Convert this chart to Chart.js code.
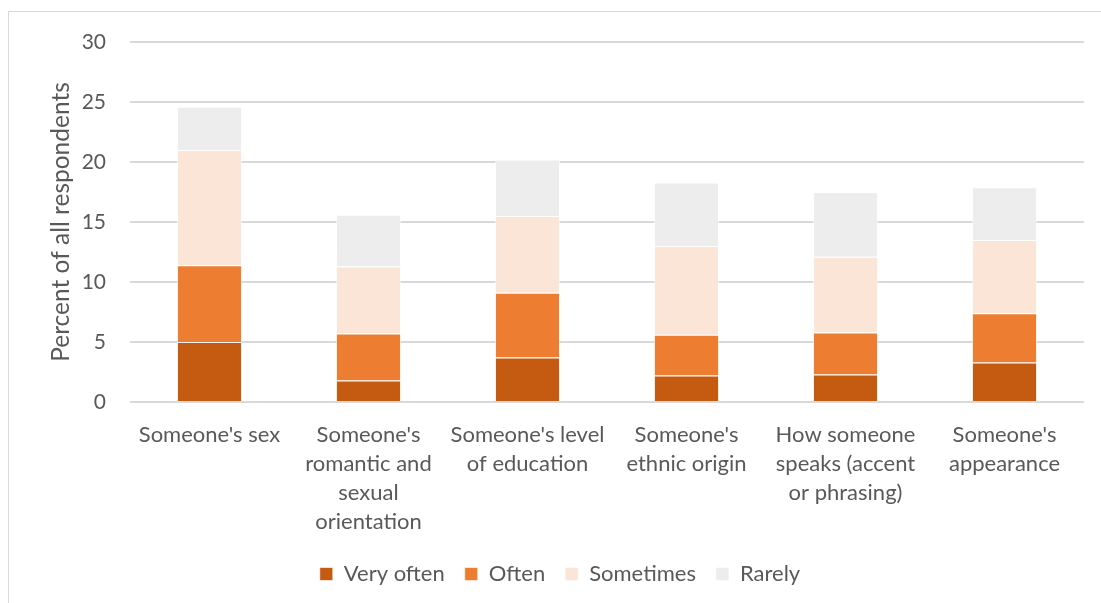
<!DOCTYPE html>
<html>
<head>
<meta charset="utf-8">
<script src="https://cdn.jsdelivr.net/npm/chart.js@4.4.1/dist/chart.umd.min.js"></script>
<style>
  html, body { margin: 0; padding: 0; background: #fff; }
  #wrap { position: relative; width: 1101px; height: 603px; overflow: hidden; }
  #frame { position: absolute; left: 8px; top: 11px; width: 1200px; height: 700px; border: 1px solid #d9d9d9; box-sizing: border-box; }
  #chart { position: absolute; left: 0; top: 0; }
</style>
</head>
<body>
<div id="wrap">
  <div id="frame"></div>
  <canvas id="chart" width="1101" height="603"></canvas>
</div>
<script>
// Categories (wrapped the way the axis shows them)
const categories = [
  ["Someone's sex"],
  ["Someone's", "romantic and", "sexual", "orientation"],
  ["Someone's level", "of education"],
  ["Someone's", "ethnic origin"],
  ["How someone", "speaks (accent", "or phrasing)"],
  ["Someone's", "appearance"]
];

// Percent of all respondents, one array per frequency
const veryOften = [5.0, 1.8, 3.7, 2.2, 2.3, 3.3];
const often     = [6.4, 3.9, 5.4, 3.4, 3.5, 4.1];
const sometimes = [9.6, 5.6, 6.4, 7.4, 6.3, 6.1];
const rarely    = [3.6, 4.3, 4.7, 5.3, 5.4, 4.4];

const yTicks = [0, 5, 10, 15, 20, 25, 30];

const FONT = "Lato, 'Open Sans', sans-serif";
const TEXT = '#595959';

function series(label, data, color) {
  return {
    label, data,
    backgroundColor: color,
    borderColor: 'rgba(255,255,255,0.6)',
    borderWidth: 1,
    barPercentage: 0.82,
    categoryPercentage: 0.5
  };
}

new Chart(document.getElementById('chart'), {
  type: 'bar',
  data: {
    labels: categories,
    datasets: [
      series('Very often', veryOften, '#C55A11'),
      series('Often', often, '#ED7D31'),
      series('Sometimes', sometimes, '#FBE5D6'),
      series('Rarely', rarely, '#EDEDED')
    ]
  },
  options: {
    responsive: false,
    animation: false,
    layout: { padding: { left: 36, top: 42, right: 17, bottom: 8 } },
    plugins: {
      tooltip: { enabled: false },
      legend: {
        position: 'bottom',
        labels: {
          boxWidth: 13, boxHeight: 13, padding: 20,
          color: TEXT,
          font: { family: FONT, size: 22 }
        }
      }
    },
    scales: {
      x: {
        stacked: true,
        grid: { display: false, drawTicks: false },
        border: { display: false },
        ticks: {
          color: TEXT, padding: 18, maxRotation: 0, autoSkip: false,
          font: { family: FONT, size: 22, lineHeight: 1.32 }
        },
        afterFit: s => { s.height = 141; }
      },
      y: {
        stacked: true,
        min: 0, max: 30,
        afterBuildTicks: s => { s.ticks = yTicks.map(v => ({ value: v })); },
        grid: { color: '#d9d9d9', lineWidth: 2, drawTicks: false },
        border: { display: false },
        ticks: {
          color: TEXT, padding: 24,
          font: { family: FONT, size: 21 }
        },
        title: {
          display: true,
          text: 'Percent of all respondents',
          color: TEXT,
          padding: 10,
          font: { family: FONT, size: 24.5 }
        },
        afterFit: s => { s.width = 94; }
      }
    }
  }
});
</script>
</body>
</html>
